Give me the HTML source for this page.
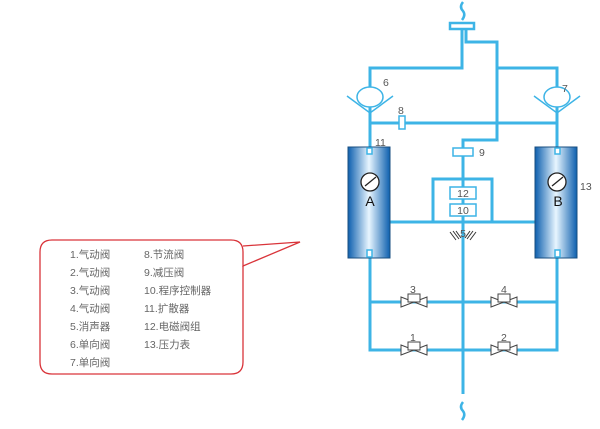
<!DOCTYPE html>
<html><head><meta charset="utf-8"><style>
body{margin:0;background:#fff;width:600px;height:424px;overflow:hidden}
text{font-family:"Liberation Sans","Noto Sans CJK SC",sans-serif}
</style></head><body>
<svg width="600" height="424" viewBox="0 0 600 424" xmlns="http://www.w3.org/2000/svg">
<defs>
<linearGradient id="tk" x1="0" x2="1" y1="0" y2="0">
<stop offset="0" stop-color="#0d5fae"/><stop offset="0.5" stop-color="#e8f6ff"/><stop offset="1" stop-color="#0d5fae"/>
</linearGradient>
</defs>
<g fill="none" stroke="#3db4e6" stroke-width="3">
<path d="M462 28 V68 H370 V147"/>
<path d="M466 28 V42 H497 V140 H463 V148"/>
<path d="M497 68 H557 V147"/>
<path d="M370 123 H557"/>
<path d="M463 155 V394"/>
<path d="M390 222 H535"/>
<path d="M433 222 V179 H492 V222"/>
<path d="M370 256 V350 H557 V256"/>
<path d="M370 302 H557"/>
<path d="M463 2 q-4 5 0 9 q3 4 -1 9" stroke-width="2.5"/>
<path d="M463 402 q-4 5 0 9 q3 4 -1 9" stroke-width="2.5"/>
</g>
<rect x="450" y="23" width="24" height="6" fill="#fff" stroke="#3db4e6" stroke-width="2.5"/>
<g fill="#fff" stroke="#3db4e6" stroke-width="1.5">
<ellipse cx="370" cy="97" rx="13" ry="10"/>
<path d="M347 96 L370 113 L393 96" fill="none"/>
<ellipse cx="557" cy="97" rx="13" ry="10"/>
<path d="M534 96 L557 113 L580 96" fill="none"/>
<rect x="399" y="116" width="6" height="13"/>
<rect x="453" y="148" width="20" height="8"/>
<rect x="450" y="187" width="26" height="12"/>
<rect x="450" y="204" width="26" height="12"/>
</g>
<rect x="348" y="147" width="42" height="111" fill="url(#tk)" stroke="#1a4f80" stroke-width="1"/>
<rect x="535" y="147" width="42" height="111" fill="url(#tk)" stroke="#1a4f80" stroke-width="1"/>
<g fill="#fff" stroke="#3db4e6" stroke-width="1.5">
<rect x="367" y="148" width="5" height="6"/><rect x="555" y="148" width="5" height="6"/>
<rect x="367" y="250" width="5" height="7"/><rect x="555" y="250" width="5" height="7"/>
</g>
<g stroke="#222" stroke-width="1.3">
<circle cx="370" cy="182" r="9" fill="#fff"/><line x1="365" y1="186" x2="376" y2="177"/>
<circle cx="557" cy="182" r="9" fill="#fff"/><line x1="552" y1="186" x2="563" y2="177"/>
</g>
<text x="370" y="206" font-size="14" text-anchor="middle" fill="#111">A</text>
<text x="558" y="206" font-size="14" text-anchor="middle" fill="#111">B</text>
<g stroke="#333" stroke-width="1"><path d="M450 232 l6 8 M453 231 l6 8 M456 231 l5 7 M476 232 l-6 8 M473 231 l-6 8 M470 231 l-5 7"/></g>
<g fill="#fff" stroke="#444" stroke-width="1">
<path d="M401 297 v10 l26 -10 v10 z"/><rect x="408" y="294" width="12" height="8"/>
<path d="M491 297 v10 l26 -10 v10 z"/><rect x="498" y="294" width="12" height="8"/>
<path d="M401 345 v10 l26 -10 v10 z"/><rect x="408" y="342" width="12" height="8"/>
<path d="M491 345 v10 l26 -10 v10 z"/><rect x="498" y="342" width="12" height="8"/>
</g>
<g font-size="10.5" fill="#555">
<text x="410" y="293">3</text><text x="501" y="293">4</text>
<text x="410" y="341">1</text><text x="501" y="341">2</text>
<text x="383" y="86">6</text><text x="562" y="92">7</text>
<text x="398" y="114">8</text><text x="479" y="156">9</text>
<text x="375" y="146">11</text><text x="580" y="190">13</text>
<text x="463" y="197" text-anchor="middle">12</text><text x="463" y="214" text-anchor="middle">10</text>
<text x="463" y="237" text-anchor="middle">5</text>
</g>
<path d="M52 240 H231 Q243 240 243 252 V266 L300 242 L243 246" fill="none" stroke="#d9343a" stroke-width="1.3"/>
<path d="M243 266 V362 Q243 374 231 374 H52 Q40 374 40 362 V252 Q40 240 52 240" fill="none" stroke="#d9343a" stroke-width="1.3"/>
<g font-size="10.5" fill="#666">
<text x="70" y="258">1.气动阀</text><text x="70" y="276">2.气动阀</text><text x="70" y="294">3.气动阀</text>
<text x="70" y="312">4.气动阀</text><text x="70" y="330">5.消声器</text><text x="70" y="348">6.单向阀</text>
<text x="70" y="366">7.单向阀</text>
<text x="144" y="258">8.节流阀</text><text x="144" y="276">9.减压阀</text><text x="144" y="294">10.程序控制器</text>
<text x="144" y="312">11.扩散器</text><text x="144" y="330">12.电磁阀组</text><text x="144" y="348">13.压力表</text>
</g>
</svg>
</body></html>
